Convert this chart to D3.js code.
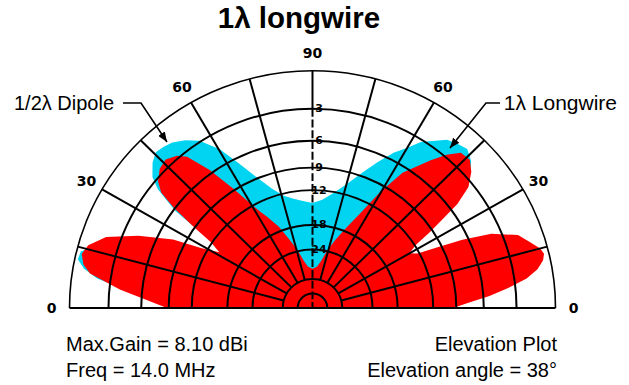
<!DOCTYPE html>
<html><head><meta charset="utf-8">
<script src="https://cdn.jsdelivr.net/npm/d3@7"></script>
<style>body{margin:0;background:#fff}svg{display:block}</style>
</head><body>
<svg id="chart" width="629" height="385"></svg>
<script>
// ---- data (elevation angle in degrees from the right horizon, gain in dB relative to max) ----
const longwireAngles = [0,2,4,6,8,10,12,13.5,15,17,20,23,25,26.5,28,30,32,33.5,34.7,36.3,38.5,41.3,44,47,49.5,52,57,60.4,64,68,72,76,80,84,90,
  96,100,104,108,112,116,118,123,126,129,131,134,137,140,142,143.5,145,146.5,148.5,151,153.3,157,160.6,164,166.5,169,171,174.4,177,180];
const longwireDb = [-9.4,-7.6,-5.4,-3.62,-2.0,-1.06,-0.52,-0.35,-0.52,-1.06,-1.81,-3.83,-6.6,-9.6,-12.24,-13.3,-11.9,-9.35,-7.66,-5.17,-3.4,-2.39,-1.81,-1.9,-2.79,-4.04,-6.62,-9.95,-14.1,-17.5,-20.65,-23.8,-27.6,-29.9,-30.9,
  -29.9,-27.6,-23.8,-20.65,-17.1,-14.5,-13.3,-8.76,-5.64,-3.4,-2.79,-2.39,-2.59,-3.2,-4.04,-5.87,-8.76,-11.9,-13.7,-11.2,-7.6,-4.3,-1.8,-0.7,-0.4,-0.7,-1.3,-3.9,-6.4,-8.8];

const dipoleAngles = [0,4,8,10,12,13.5,15,17,20,24,28,30,32,34,36,38.5,41,43.5,46.5,49,52,55,57.5,60,63,66.5,70,75,80,85,90,
  95,100,104,108.3,112.8,116.4,119.7,123.4,126.5,129.6,132,134.5,137,140,141.8,144,146,148,150,154,158,162,164,166,168,170,172,176,180];
const dipoleDb = [-11.9,-7.13,-2.79,-1.43,-0.88,-0.7,-0.88,-1.62,-3.2,-6.62,-13.3,-14.9,-13.7,-9.35,-6.12,-3.83,-2.59,-1.81,-1.34,-1.52,-1.81,-2.59,-3.2,-4.26,-5.28,-6.87,-8.48,-10.57,-12.2,-13.4,-14.0,
  -13.6,-13.0,-12.3,-10.9,-8.76,-6.62,-4.48,-2.89,-2.19,-1.71,-1.52,-1.43,-1.81,-2.59,-3.62,-6.12,-11.9,-14.9,-14.9,-9.95,-5.64,-2.39,-1.06,-0.3,-0.22,-0.8,-1.9,-6.12,-11.9];

const ringDb = [0,-3,-6,-9,-12,-18,-24,-36,-48];
const ringLabels = ["","3","6","9","12","18","24","",""];
const spokeAngles = [0,15,30,45,60,75,90,105,120,135,150,165,180];
const angleTickValues = [0,30,60,90,120,150,180];
const angleTickLabels = ["0","30","60","90","60","30","0"];

const title = "1\u03bb longwire";
const infoLeft = ["Max.Gain = 8.10 dBi","Freq = 14.0 MHz"];
const infoRight = ["Elevation Plot","Elevation angle = 38\u00b0"];
const legendDipole = "1/2\u03bb Dipole";
const legendLongwire = "1\u03bb Longwire";

// ---- layout ----
const svg = d3.select("#chart");
const cx = 312.5, cy = 308, R = 243, squash = 0.976;
const rad = d3.scalePow().exponent(0.2531).domain([0,1]).range([0,R]);
const rOf = db => rad(Math.pow(10, db/10));
const ang = d3.scaleLinear().domain([0,180]).range([Math.PI/2, -Math.PI/2]);

const g = svg.append("g").attr("transform",`translate(${cx},${cy}) scale(1,${squash})`);

const lineR = d3.lineRadial().angle(d => ang(d[0])).radius(d => rOf(d[1])).curve(d3.curveLinear);
function pattern(angles, dbs, color){
  const pts = angles.map((a,i)=>[a,dbs[i]]);
  g.append("path").attr("d", lineR(pts) + "L0,0Z").attr("fill", color).attr("stroke","none");
}
pattern(dipoleAngles, dipoleDb, "#00d4f0");
pattern(longwireAngles, longwireDb, "#ff0000");

// rings
ringDb.forEach((db,i)=>{
  const r = rOf(db);
  const p = d3.path(); p.moveTo(-r,0); p.arc(0,0,r,Math.PI,2*Math.PI);
  g.append("path").attr("d",p.toString()).attr("fill","none").attr("stroke","#000")
    .attr("stroke-width", i===0?1.6:2);
});
// spokes
const rInner = rOf(ringDb[ringDb.length-2]);
spokeAngles.forEach(a=>{
  const t = ang(a);
  if (a===90) {
    const r3 = rOf(-3);
    g.append("line").attr("x1",0).attr("y1",-R).attr("x2",0).attr("y2",-r3).attr("stroke","#000").attr("stroke-width",2);
    g.append("line").attr("x1",0).attr("y1",-r3).attr("x2",0).attr("y2",0).attr("stroke","#000").attr("stroke-width",2).attr("stroke-dasharray","8,3");
  } else if (a===0 || a===180) {
    // baseline drawn separately
  } else {
    g.append("line")
      .attr("x1", rInner*Math.sin(t)).attr("y1", -rInner*Math.cos(t))
      .attr("x2", R*Math.sin(t)).attr("y2", -R*Math.cos(t))
      .attr("stroke","#000").attr("stroke-width",2);
  }
});
g.append("line").attr("x1",-R).attr("y1",0).attr("x2",R).attr("y2",0).attr("stroke","#000").attr("stroke-width",2);

// ring labels
ringDb.forEach((db,i)=>{
  if (!ringLabels[i]) return;
  svg.append("text").attr("x", cx+6.5).attr("y", cy - rOf(db)*squash)
    .attr("text-anchor","middle").attr("dominant-baseline","central")
    .attr("font-family","DejaVu Sans, sans-serif").attr("font-weight","bold").attr("font-size",11)
    .text(ringLabels[i]);
});
// angle labels
angleTickValues.forEach((a,i)=>{
  const t = ang(a), rr = R + 18;
  svg.append("text").attr("x", cx + rr*Math.sin(t)).attr("y", cy - rr*Math.cos(t)*squash)
    .attr("text-anchor","middle").attr("dominant-baseline","central")
    .attr("font-family","DejaVu Sans, sans-serif").attr("font-weight","bold").attr("font-size",14)
    .text(angleTickLabels[i]);
});

// title
svg.append("text").attr("x",299).attr("y",28).attr("text-anchor","middle")
  .attr("font-family","Liberation Sans, Arial, sans-serif").attr("font-weight","bold").attr("font-size",29.5)
  .text(title);

// info texts
const txt = (x,y,s,anchor,size)=>svg.append("text").attr("x",x).attr("y",y).attr("text-anchor",anchor)
  .attr("font-family","Liberation Sans, Arial, sans-serif").attr("font-size",size||20).attr("fill","#000").text(s);
txt(66,351,infoLeft[0],"start");
txt(66,377,infoLeft[1],"start");
txt(557,351,infoRight[0],"end");
txt(557,377,infoRight[1],"end");

// legend callouts
const defs = svg.append("defs");
defs.append("marker").attr("id","ah").attr("viewBox","0 0 10 8").attr("refX",10).attr("refY",4)
  .attr("markerWidth",10).attr("markerHeight",8).attr("markerUnits","userSpaceOnUse").attr("orient","auto")
  .append("path").attr("d","M0,0L10,4L0,8Z").attr("fill","#000");
txt(14,110,legendDipole,"start");
txt(617,110,legendLongwire,"end",21);
svg.append("path").attr("d","M123,103H141L167,142").attr("fill","none").attr("stroke","#000").attr("stroke-width",1.6).attr("marker-end","url(#ah)");
svg.append("path").attr("d","M500,103H486L450,148").attr("fill","none").attr("stroke","#000").attr("stroke-width",1.6).attr("marker-end","url(#ah)");
</script>
</body></html>
